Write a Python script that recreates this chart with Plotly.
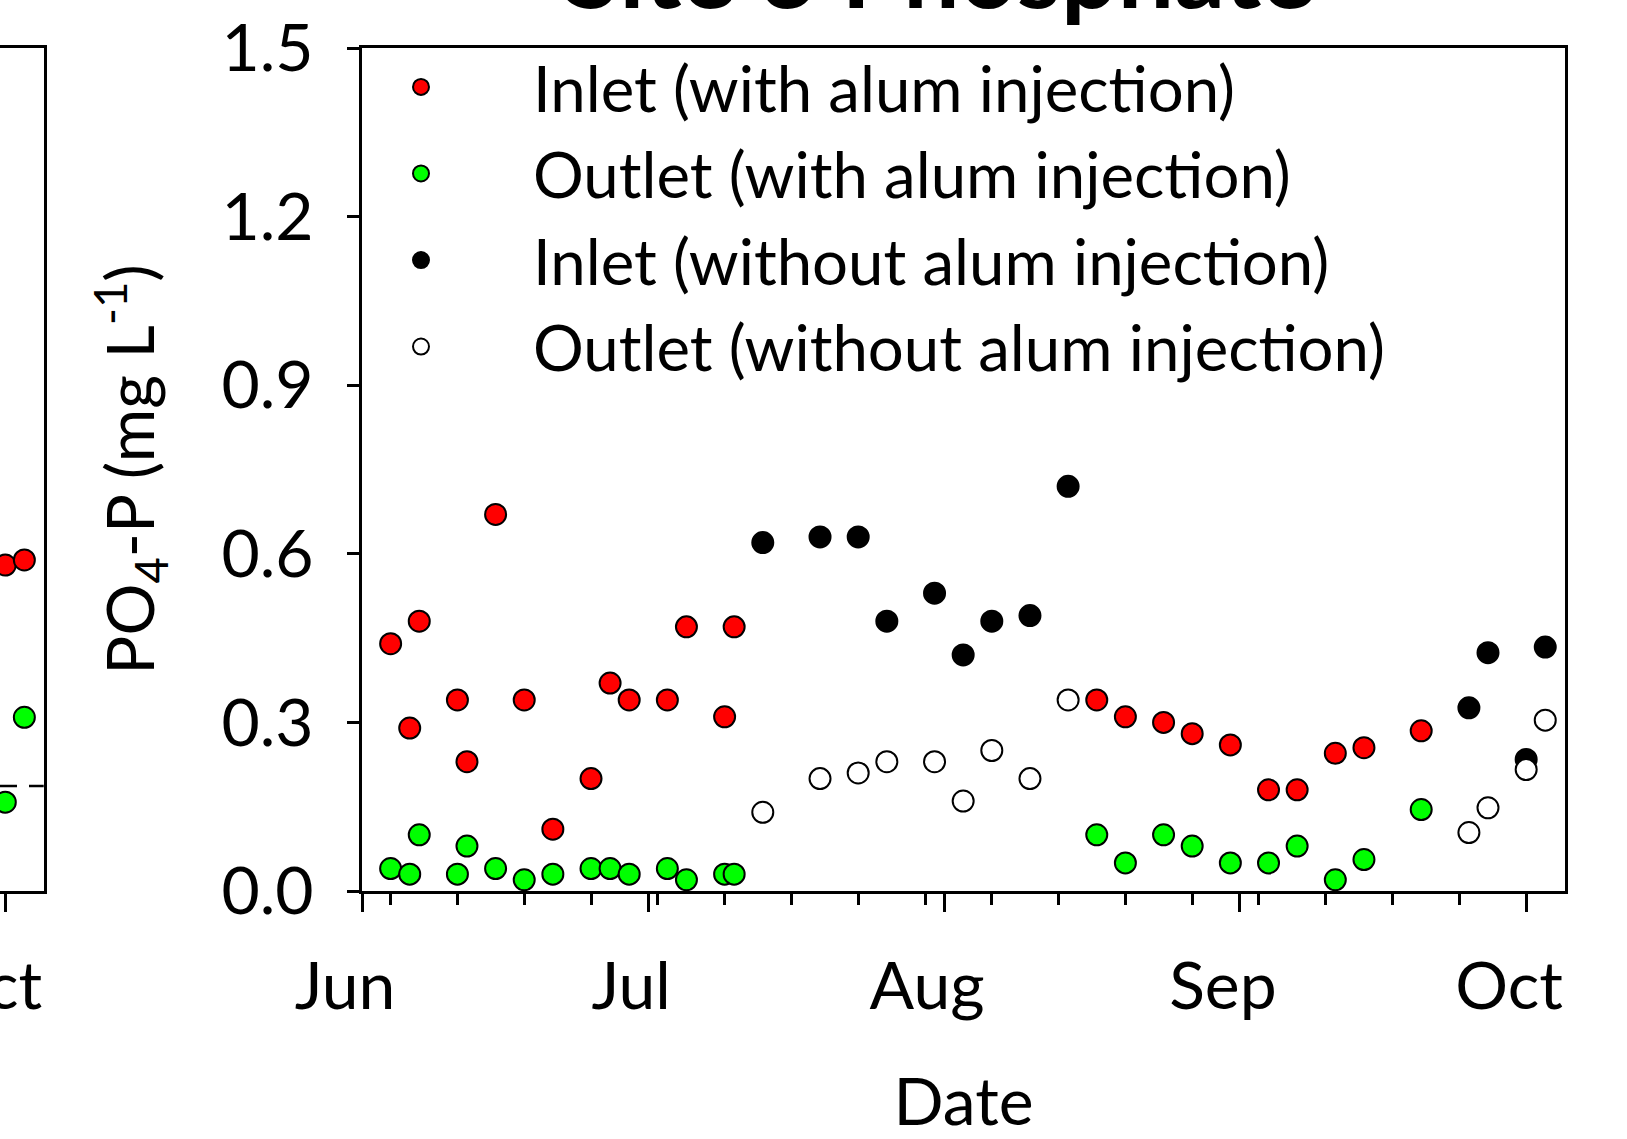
import plotly.graph_objects as go

# ---------------- data (Site 3 phosphate, PO4-P mg/L) ----------------
alum_dates = ["2012-06-04", "2012-06-06", "2012-06-07", "2012-06-11", "2012-06-12",
              "2012-06-15", "2012-06-18", "2012-06-21", "2012-06-25", "2012-06-27",
              "2012-06-29", "2012-07-03", "2012-07-05", "2012-07-09", "2012-07-10",
              "2012-08-17", "2012-08-20", "2012-08-24", "2012-08-27", "2012-08-31",
              "2012-09-04", "2012-09-07", "2012-09-11", "2012-09-14", "2012-09-20"]
inlet_alum = [0.44, 0.29, 0.48, 0.34, 0.23, 0.67, 0.34, 0.11, 0.20, 0.37,
              0.34, 0.34, 0.47, 0.31, 0.47, 0.34, 0.31, 0.30, 0.28, 0.26,
              0.18, 0.18, 0.245, 0.255, 0.285]
outlet_alum = [0.04, 0.03, 0.10, 0.03, 0.08, 0.04, 0.02, 0.03, 0.04, 0.04,
               0.03, 0.04, 0.02, 0.03, 0.03, 0.10, 0.05, 0.10, 0.08, 0.05,
               0.05, 0.08, 0.02, 0.056, 0.145]

noalum_dates = ["2012-07-13", "2012-07-19", "2012-07-23", "2012-07-26", "2012-07-31",
                "2012-08-03", "2012-08-06", "2012-08-10", "2012-08-14", "2012-09-25",
                "2012-09-27", "2012-10-01", "2012-10-03"]
inlet_noalum = [0.62, 0.63, 0.63, 0.48, 0.53, 0.42, 0.48, 0.49, 0.72, 0.326,
                0.424, 0.234, 0.434]
outlet_noalum = [0.14, 0.20, 0.21, 0.23, 0.23, 0.16, 0.25, 0.20, 0.34, 0.104,
                 0.148, 0.216, 0.304]

# neighbouring (cropped) panel on the left: only its last days are visible
left_dates = ["2012-10-01", "2012-10-03"]
left_inlet = [0.580, 0.589]
left_outlet = [0.158, 0.309]
left_ref_level = 0.187

month_ticks = ["2012-06-01", "2012-07-01", "2012-08-01", "2012-09-01", "2012-10-01"]
month_labels = ["Jun", "Jul", "Aug", "Sep", "Oct"]
y_ticks = [0.0, 0.3, 0.6, 0.9, 1.2, 1.5]

x_range = ["2012-06-01", "2012-10-05 01:40"]
left_x_range = ["2012-09-30 10:40", "2012-10-05 00:45"]

ZWNJ = "\u200c"  # keeps Lato from drawing its "ti" ligature
legend_names = ["Inlet (with alum injec" + ZWNJ + "tion)",
                "Outlet (with alum injec" + ZWNJ + "tion)",
                "Inlet (without alum injec" + ZWNJ + "tion)",
                "Outlet (without alum injec" + ZWNJ + "tion)"]

# ---------------- figure ----------------
FONT = "Lato"
W, H = 1627, 1139
ML, MR, MT, MB = 0, 62, 48, 248
PW = W - ML - MR
main_left = 362 / PW
left_right = 43.7 / PW

mk = dict(size=21, line=dict(color="black", width=2))

fig = go.Figure()
styles = [("#FF0000", inlet_alum, alum_dates), ("#00FF00", outlet_alum, alum_dates),
          ("#000000", inlet_noalum, noalum_dates), ("#FFFFFF", outlet_noalum, noalum_dates)]
for i, (col, vals, dts) in enumerate(styles):
    fig.add_trace(go.Scatter(x=dts, y=vals, mode="markers", name=legend_names[i],
                             legendgroup=str(i),
                             marker=dict(color=col, **mk), xaxis="x", yaxis="y"))

fig.add_trace(go.Scatter(x=left_dates, y=left_inlet, mode="markers", showlegend=False,
                         marker=dict(color="#FF0000", **mk), xaxis="x2", yaxis="y2"))
fig.add_trace(go.Scatter(x=left_dates, y=left_outlet, mode="markers", showlegend=False,
                         marker=dict(color="#00FF00", **mk), xaxis="x2", yaxis="y2"))

axis_font = dict(family=FONT, size=66, color="black")
xcommon = dict(type="date", tickmode="array", tickvals=month_ticks, ticktext=month_labels,
               ticks="outside", ticklen=18, tickwidth=2.5, tickcolor="black",
               showline=True, linewidth=2.5, linecolor="black", mirror=True,
               showgrid=False, zeroline=False, tickfont=axis_font,
               ticklabelshift=-17, ticklabelstandoff=18, ticklabeloverflow="allow",
               automargin=False,
               minor=dict(ticks="outside", ticklen=11, tickwidth=2.5, tickcolor="black",
                          tick0="2012-06-04", dtick=7 * 86400000, showgrid=False))

fig.update_layout(
    width=W, height=H,
    margin=dict(l=ML, r=MR, t=MT, b=MB),
    paper_bgcolor="white", plot_bgcolor="white",
    font=dict(family=FONT, color="black"),
    title=dict(text="Site 3 Phosphate", font=dict(family=FONT, size=100, weight="bold"),
               xref="container", x=939.5 / W, xanchor="center",
               yref="container", y=1 - 8 / H, yanchor="bottom"),
    xaxis=dict(domain=[main_left, 1], range=x_range, anchor="y",
               title=dict(text="Date", font=axis_font, standoff=81), **xcommon),
    yaxis=dict(domain=[0, 1], range=[0, 1.5], anchor="x", tickvals=y_ticks,
               tickformat=".1f", ticks="outside", ticklen=12.5, tickwidth=2.5,
               tickcolor="black", showline=True, linewidth=2.5, linecolor="black",
               mirror=True, showgrid=False, zeroline=False, tickfont=axis_font,
               ticklabelstandoff=20, automargin=False,
               title=dict(text="PO<sub>4</sub>-P (mg L<sup>-1</sup>)",
                          font=dict(family=FONT, size=65, color="black"),
                          standoff=46)),
    xaxis2=dict(domain=[0, left_right], range=left_x_range, anchor="y2", **xcommon),
    yaxis2=dict(domain=[0, 1], range=[0, 1.5], anchor="x2", side="right",
                showline=True, linewidth=2.5, linecolor="black", mirror=False,
                ticks="", showticklabels=False, showgrid=False, zeroline=False,
                automargin=False),
    legend=dict(x=309 / PW, xanchor="left", xref="paper", y=1.0105, yanchor="top",
                font=dict(family=FONT, size=63.5, color="black"),
                itemwidth=214, tracegroupgap=1, bgcolor="rgba(0,0,0,0)",
                borderwidth=0),
    shapes=[dict(type="line", xref="x2 domain", x0=0, x1=1, yref="y2",
                 y0=left_ref_level, y1=left_ref_level,
                 line=dict(color="black", width=2.5, dash="17px,12px"))],
)

fig.write_html("out.html", config={"displayModeBar": False},
               post_script="document.body.style.margin='0px';")
